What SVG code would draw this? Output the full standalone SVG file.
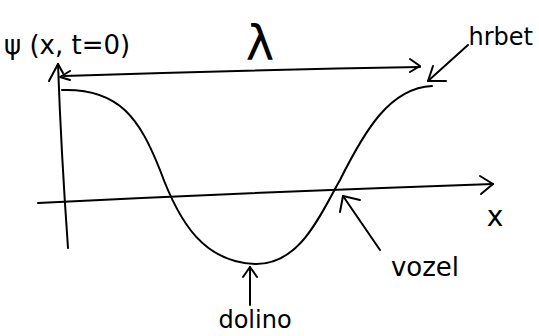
<svg xmlns="http://www.w3.org/2000/svg" width="539" height="336" viewBox="0 0 539 336">
<style>
.s{fill:none;stroke:#000;stroke-width:2;stroke-linecap:round;stroke-linejoin:round}
.t{font-family:"DejaVu Sans","Noto Sans",sans-serif;fill:#000}
</style>
<rect width="539" height="336" fill="#fff"/>
<g id="axes">
<path class="s" d="M58,64 Q61,150 68,248"/>
<path class="s" d="M49,81 L58,64 L63,73"/>
<path class="s" d="M38,203 Q260,192 493,184"/>
<path class="s" d="M480,176 L493,184 L481,194"/>
</g>
<g id="wave">
<path class="s" d="M62,90 C120,88 140,120 160,170 C180,225 205,262 255,264 C300,265 320,215 340,180 C365,130 390,88 432,86"/>
</g>
<g id="connectors">
<path class="s" d="M64,76 Q240,70 420,67"/>
<path class="s" d="M70,71 L60,77 L70,80"/>
<path class="s" d="M410,59 L420,66 L410,72"/>
<path class="s" d="M468,45 L428,81"/>
<path class="s" d="M446,81 L428,81 L433,66"/>
<path class="s" d="M380,250 L343,196"/>
<path class="s" d="M360,200 L343,196 L340,212"/>
<path class="s" d="M250,305 L250,267"/>
<path class="s" d="M243,277 L250,267 L257,277"/>
</g>
<g id="labels">
<text class="t" x="4" y="54" font-size="26">ψ (x, t=0)</text>
<text class="t" x="260" y="60" font-size="48" text-anchor="middle">λ</text>
<text class="t" x="533" y="45" font-size="24" text-anchor="end">hrbet</text>
<text class="t" x="495" y="226" font-size="28" text-anchor="middle">x</text>
<text class="t" x="425" y="276" font-size="26" text-anchor="middle">vozel</text>
<text class="t" x="255" y="328" font-size="24" text-anchor="middle">dolino</text>
</g>
</svg>
